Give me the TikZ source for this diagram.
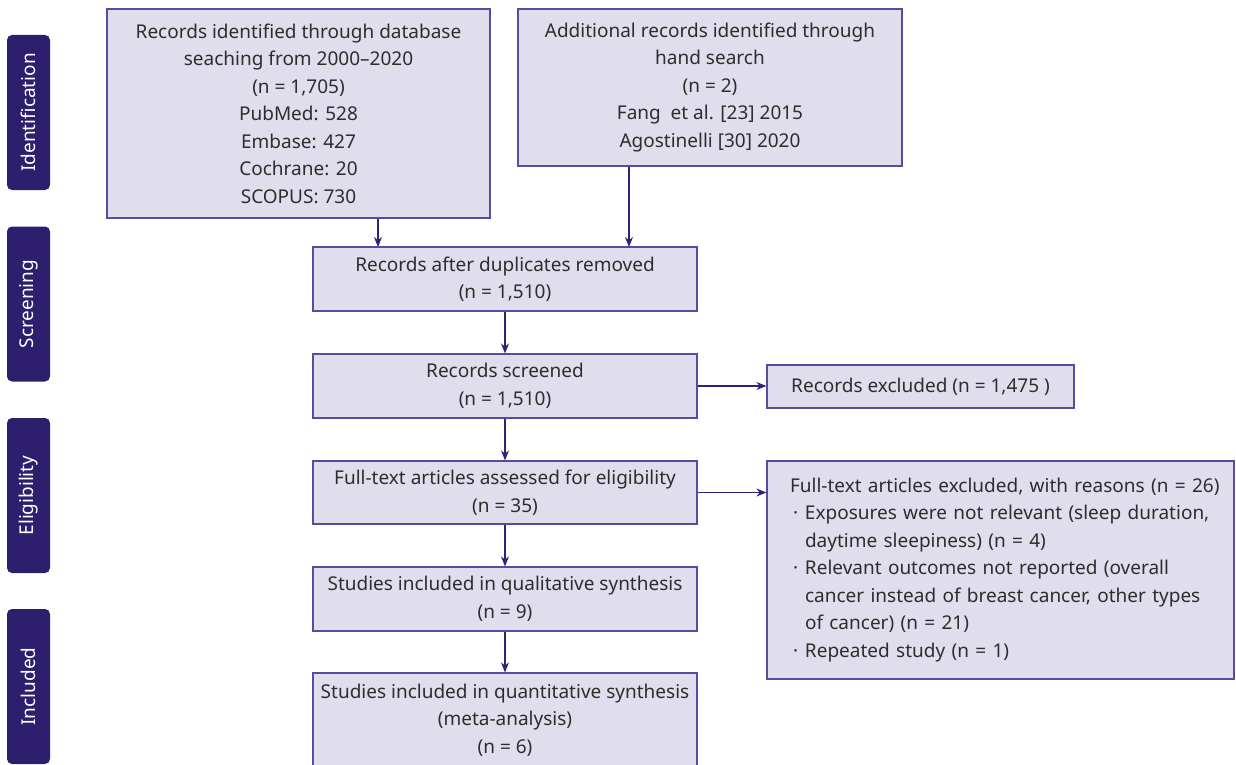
\documentclass[tikz,border=0pt]{standalone}
\usepackage{fontspec}
\setmainfont{Noto Sans}
\usepackage{xcolor}
\usetikzlibrary{positioning}
\usetikzlibrary{arrows.meta}
\definecolor{tabcolor}{RGB}{46,31,110}
\definecolor{boxfill}{RGB}{224,222,236}
\definecolor{boxline}{RGB}{88,76,160}
\definecolor{linecolor}{RGB}{46,35,119}
\definecolor{textcolor}{RGB}{45,45,45}
\tikzset{
	flowbox/.style={
		draw=boxline,
		fill=boxfill,
		line width=0.6pt,
		inner sep=0pt,
		align=center,
		text=textcolor,
		font=\fontsize{9.5}{13.75}\selectfont,
	},
	phasetab/.style={
		fill=tabcolor,
		rounded corners=2.5pt,
		rotate=90,
		minimum width=77.5pt,
		minimum height=21.5pt,
		inner sep=0pt,
		text=white,
		font=\fontsize{9.5}{10}\selectfont,
	},
	flowline/.style={draw=linecolor, line width=0.7pt},
}
\newcommand{\lineind}{\hspace*{11.5pt}}
\newcommand{\bulitem}{\lineind\makebox[7.5pt][l]{\hspace{1.5pt}·}}
\newcommand{\bulgap}{\lineind\hspace*{7.5pt}}

\begin{document}
\begin{tikzpicture}[x=0.5pt, y=-0.5pt, >={Stealth[length=5pt,width=4pt]}]
		\useasboundingbox (0,0) rectangle (1236,765);
		% phase tabs
		\node[phasetab] (tabid) at (28.5,112.5) {Identification};
		\node[phasetab] (tabscr) at (28.5,304) {Screening};
		\node[phasetab] (tabelig) at (28.5,495.5) {Eligibility};
		\node[phasetab] (tabincl) at (28.5,686.5) {Included};
		
		\node[flowbox, minimum width=191.5pt, minimum height=104.5pt] (database) at (298.5,113.5) {Records identified through database\\seaching from 2000--2020\\(n = 1,705)\\PubMed: 528\\Embase: 427\\Cochrane: 20\\SCOPUS: 730};
		\node[flowbox, minimum width=192pt, minimum height=78.5pt] (handsearch) at (710,87.5) {Additional records identified through\\hand search\\(n = 2)\\Fang~ et al. [23] 2015\\Agostinelli [30] 2020};
		\node[flowbox, minimum width=192pt, minimum height=32pt] (duplicates) at (505,279) {Records after duplicates removed\\(n = 1,510)};
		\node[flowbox, minimum width=192pt, minimum height=32pt] (screened) at (505,386) {Records screened\\(n = 1,510)};
		\node[flowbox, minimum width=153.5pt, minimum height=21.5pt] (excluded) at (920.5,386.5) {Records excluded (n = 1,475 )};
		\node[flowbox, minimum width=192pt, minimum height=31.5pt] (fulltext) at (505,492.5) {Full-text articles assessed for eligibility\\(n = 35)};
		\node[flowbox, minimum height=109pt, text width=233.5pt, align=left] (reasons) at (1000.5,570) {\lineind Full-text articles excluded, with reasons (n = 26)\\
			\bulitem Exposures were not relevant (sleep duration,\\
			\bulgap daytime sleepiness) (n = 4)\\
			\bulitem Relevant outcomes not reported (overall\\
			\bulgap cancer instead of breast cancer, other types\\
			\bulgap of cancer) (n = 21)\\
			\bulitem Repeated study (n = 1)};
		\node[flowbox, minimum width=192pt, minimum height=32pt] (qualitative) at (505,599) {Studies included in qualitative synthesis\\(n = 9)};
		\node[flowbox, minimum width=192pt, minimum height=47pt] (quantitative) at (505,720) {Studies included in quantitative synthesis\\(meta-analysis)\\(n = 6)};
		
		\coordinate (dbin) at (378,247);
		\coordinate (handin) at (629,247);
		\draw[flowline, ->] (database.south -| dbin) -- (dbin);
		\draw[flowline, ->] (handsearch.south -| handin) -- (handin);
		\draw[flowline, ->] (duplicates) -- (screened);
		\draw[flowline, ->] (screened) -- (fulltext);
		\draw[flowline, ->] (fulltext) -- (qualitative);
		\draw[flowline, ->] (qualitative) -- (quantitative);
		\draw[flowline, ->] (screened.east) -- (screened.east -| excluded.west);
		\draw[flowline, ->] (fulltext.east) -- (fulltext.east -| reasons.west);
	\end{tikzpicture}
\end{document}
